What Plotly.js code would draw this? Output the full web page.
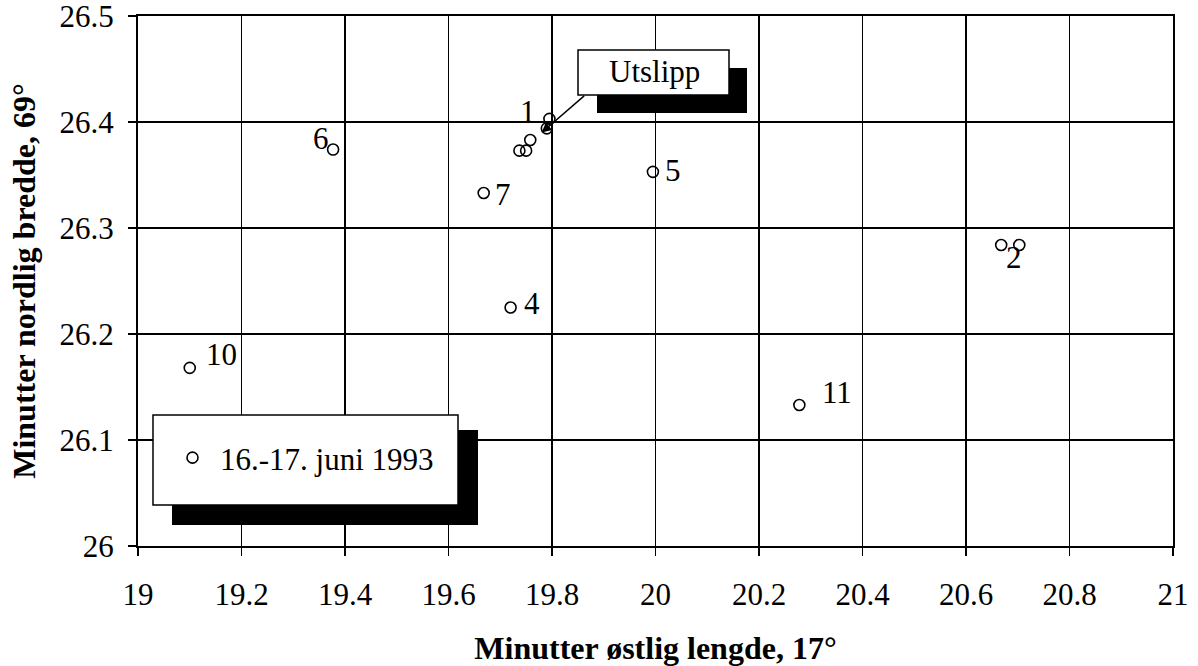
<!DOCTYPE html>
<html>
<head>
<meta charset="utf-8">
<script src="https://cdn.plot.ly/plotly-3.0.1.min.js"></script>
<style>html,body{margin:0;padding:0;background:#fff;}#chart{width:1198px;height:666px;}</style>
</head>
<body>
<div id="chart"></div>
<script>
// Data (minutes east of 17°, minutes north of 69°)
const lonMinutes = [19.795, 19.790, 19.737, 19.750, 19.758, 20.668, 20.703, 19.720, 19.995, 19.377, 19.668, 19.100, 20.278];
const latMinutes = [26.403, 26.394, 26.373, 26.373, 26.383, 26.284, 26.284, 26.225, 26.353, 26.374, 26.333, 26.168, 26.133];
const pointLabels = ['1', '', '', '', '', '', '2', '4', '5', '6', '7', '10', '11'];
// label offsets from each marker, in pixels (style only)
const labelDx = [-21, 0, 0, 0, 0, 0, -5, 21, 20, -12, 19, 32, 38];
const labelDy = [7, 0, 0, 0, 0, 0, -13, 4, 1, 11, -1, 13, 13];
const seriesName = '16.-17. juni 1993';
const sourceLabel = 'Utslipp';
const sourcePoint = {x: 19.78, y: 26.39};
const xTitle = 'Minutter østlig lengde, 17°';
const yTitle = 'Minutter nordlig bredde, 69°';

const FONT = 'Liberation Serif, Times New Roman, serif';
const FS = 31;

const trace = {
  type: 'scatter',
  mode: 'markers',
  name: seriesName,
  x: lonMinutes,
  y: latMinutes,
  marker: {symbol: 'circle-open', size: 11, color: '#000', line: {width: 1.6, color: '#000'}},
  cliponaxis: false,
  showlegend: true
};

const labelAnnotations = pointLabels.map((t, i) => t === '' ? null : ({
  xref: 'x', yref: 'y', x: lonMinutes[i], y: latMinutes[i], text: t, showarrow: false,
  xshift: labelDx[i], yshift: labelDy[i], xanchor: 'center', yanchor: 'middle',
  font: {family: FONT, size: FS, color: '#000'}
})).filter(a => a);

// pixel helpers for decorative boxes (paper coordinates)
const L = 138, R = 1173, T = 16, B = 546;
const px = v => (v - L) / (R - L);
const py = v => (B - v) / (B - T);

const layout = {
  width: 1198, height: 666,
  margin: {l: L, r: 1198 - R, t: T, b: 666 - B},
  paper_bgcolor: '#fff', plot_bgcolor: '#fff',
  font: {family: FONT, size: FS, color: '#000'},
  xaxis: {
    range: [19, 21.00001], tick0: 19, dtick: 0.2,
    showgrid: true, gridcolor: '#000', gridwidth: 1.5,
    showline: true, linecolor: '#000', linewidth: 2, mirror: true,
    ticks: 'outside', ticklen: 8, tickwidth: 1.5, tickcolor: '#000',
    tickfont: {family: FONT, size: FS, color: '#000'},
    ticklabelstandoff: 12, ticklabeloverflow: 'allow',
    zeroline: false,
    title: {text: xTitle, font: {family: FONT, size: 32, color: '#000', weight: 'bold'}, standoff: 30}
  },
  yaxis: {
    range: [26, 26.50001], tick0: 26, dtick: 0.1,
    showgrid: true, gridcolor: '#000', gridwidth: 1.5,
    showline: true, linecolor: '#000', linewidth: 2, mirror: true,
    ticks: 'outside', ticklen: 8, tickwidth: 1.5, tickcolor: '#000',
    tickfont: {family: FONT, size: FS, color: '#000'},
    ticklabelstandoff: 8, ticklabeloverflow: 'allow',
    zeroline: false,
    title: {text: yTitle, font: {family: FONT, size: 32, color: '#000', weight: 'bold'}, standoff: 14}
  },
  showlegend: true,
  legend: {
    x: px(165), y: py(458), xanchor: 'left', yanchor: 'middle',
    bgcolor: 'rgba(0,0,0,0)', borderwidth: 0,
    font: {family: FONT, size: FS, color: '#000'},
    itemwidth: 45
  },
  shapes: [
    // legend shadow + box
    {type: 'rect', xref: 'paper', yref: 'paper', layer: 'above',
     x0: px(172), x1: px(478), y0: py(525), y1: py(430), fillcolor: '#000', line: {width: 0}},
    {type: 'rect', xref: 'paper', yref: 'paper', layer: 'above',
     x0: px(153), x1: px(458), y0: py(505), y1: py(415), fillcolor: '#fff', line: {width: 1.5, color: '#000'}},
    // Utslipp shadow + box
    {type: 'rect', xref: 'paper', yref: 'paper', layer: 'above',
     x0: px(597), x1: px(747), y0: py(113), y1: py(68), fillcolor: '#000', line: {width: 0}},
    {type: 'rect', xref: 'paper', yref: 'paper', layer: 'above',
     x0: px(578), x1: px(729), y0: py(95), y1: py(50), fillcolor: '#fff', line: {width: 1.5, color: '#000'}}
  ],
  annotations: [
    {xref: 'paper', yref: 'paper', x: px(654), y: py(72), text: sourceLabel, showarrow: false,
     font: {family: FONT, size: FS, color: '#000'}, xanchor: 'center', yanchor: 'middle'},
    {xref: 'x', yref: 'y', x: sourcePoint.x, y: sourcePoint.y, text: '', showarrow: true,
     ax: 44, ay: -38, arrowhead: 2, arrowsize: 1.3, arrowwidth: 1.5, arrowcolor: '#000', standoff: 0}
  ].concat(labelAnnotations)
};

Plotly.newPlot('chart', [trace], layout, {displayModeBar: false, staticPlot: true});
</script>
</body>
</html>
